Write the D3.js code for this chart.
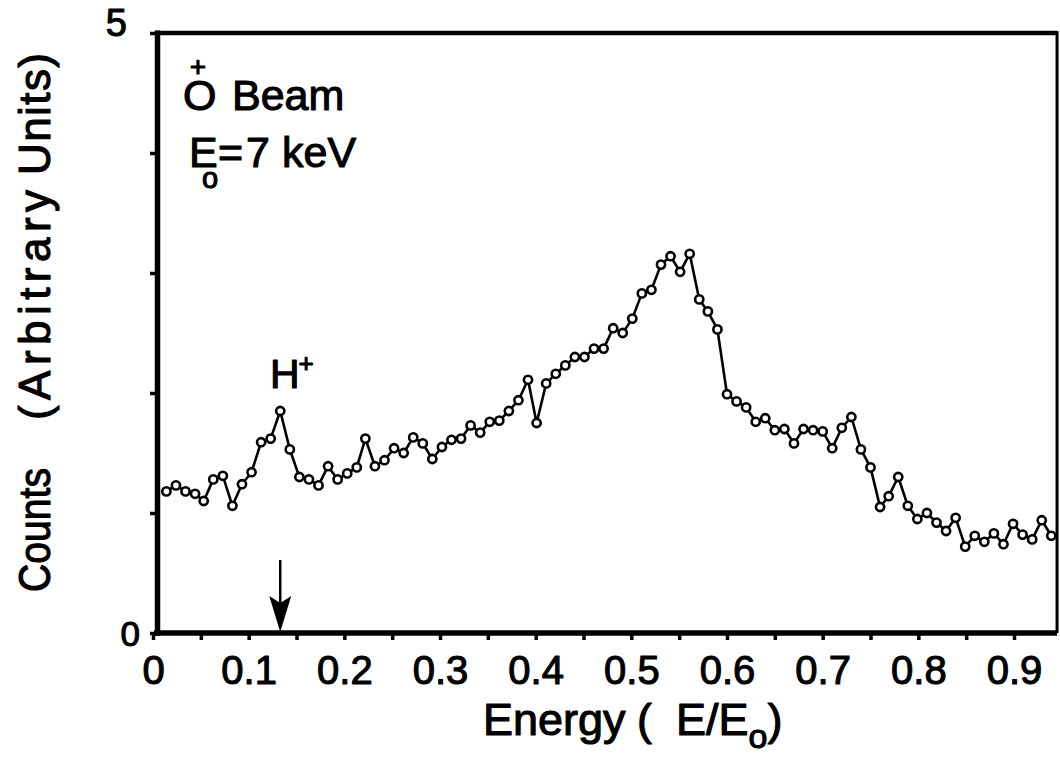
<!DOCTYPE html>
<html>
<head>
<meta charset="utf-8">
<script src="https://cdn.jsdelivr.net/npm/d3@7"></script>
<style>
  html, body { margin: 0; padding: 0; background: #fff; }
  svg { display: block; }
  text { font-family: "Liberation Sans", Arial, Helvetica, sans-serif; fill: #000; }
</style>
</head>
<body>
<svg id="chart" width="1060" height="761"></svg>
<script>
// Energy channels (E/E0) of the measured spectrum
const energy = [
  0.014, 0.024, 0.034, 0.044, 0.053, 0.063, 0.073, 0.083, 0.093, 0.103,
  0.113, 0.123, 0.133, 0.143, 0.153, 0.163, 0.173, 0.183, 0.193, 0.203,
  0.213, 0.222, 0.232, 0.242, 0.252, 0.262, 0.272, 0.282, 0.292, 0.302,
  0.312, 0.322, 0.332, 0.342, 0.352, 0.362, 0.372, 0.382, 0.392, 0.401,
  0.411, 0.421, 0.431, 0.441, 0.451, 0.461, 0.471, 0.481, 0.491, 0.501,
  0.511, 0.521, 0.531, 0.541, 0.551, 0.561, 0.571, 0.580, 0.590, 0.600,
  0.610, 0.620, 0.630, 0.640, 0.650, 0.660, 0.670, 0.680, 0.690, 0.700,
  0.710, 0.720, 0.730, 0.740, 0.750, 0.760, 0.769, 0.779, 0.789, 0.799,
  0.809, 0.819, 0.829, 0.839, 0.849, 0.859, 0.869, 0.879, 0.889, 0.899,
  0.909, 0.919, 0.929, 0.939
];

// Counts (arbitrary units) per channel
const counts = [
  1.18, 1.23, 1.18, 1.16, 1.10, 1.28, 1.31, 1.06, 1.24, 1.34,
  1.59, 1.62, 1.85, 1.53, 1.30, 1.28, 1.23, 1.39, 1.28, 1.33,
  1.38, 1.62, 1.39, 1.44, 1.54, 1.50, 1.63, 1.58, 1.45, 1.55,
  1.61, 1.62, 1.73, 1.67, 1.76, 1.77, 1.85, 1.94, 2.11, 1.75,
  2.08, 2.16, 2.23, 2.30, 2.30, 2.37, 2.37, 2.54, 2.50, 2.62,
  2.83, 2.86, 3.07, 3.14, 3.01, 3.16, 2.78, 2.68, 2.53, 1.99,
  1.93, 1.88, 1.76, 1.79, 1.69, 1.70, 1.58, 1.70, 1.69, 1.68,
  1.54, 1.71, 1.80, 1.53, 1.38, 1.05, 1.14, 1.30, 1.06, 0.95,
  1.00, 0.92, 0.85, 0.96, 0.72, 0.81, 0.76, 0.83, 0.74, 0.91,
  0.82, 0.78, 0.94, 0.81
];

// Axis ticks and labels
const xTickValues = [0, 0.05, 0.1, 0.15, 0.2, 0.25, 0.3, 0.35, 0.4, 0.45,
                     0.5, 0.55, 0.6, 0.65, 0.7, 0.75, 0.8, 0.85, 0.9];
const xTickLabels = ["0", "", "0.1", "", "0.2", "", "0.3", "", "0.4", "",
                     "0.5", "", "0.6", "", "0.7", "", "0.8", "", "0.9"];
const yTickValues = [0, 1, 2, 3, 4, 5];
const yEndLabels = ["0", "5"];

const xMax = 0.945;      // right edge of the frame (E/E0)
const hPeak = 0.133;     // H+ peak marker position (E/E0)

const svg = d3.select("#chart");

const x = d3.scaleLinear().domain([0, 0.9]).range([153, 1014]);
const y = d3.scaleLinear().domain([0, 5]).range([633, 33]);

const ink = "#000";
// printed text is set a little heavy
const heavy = g => g.style("stroke", ink).style("stroke-width", 1.1).style("stroke-linejoin", "round");

// Frame: heavy left and bottom axes, lighter top and right edges
svg.append("line")
  .attr("x1", x(0) + 2).attr("x2", x(xMax))
  .attr("y1", y(5)).attr("y2", y(5))
  .attr("stroke", ink).attr("stroke-width", 4.5);
svg.append("line")
  .attr("x1", x(xMax)).attr("x2", x(xMax))
  .attr("y1", y(5) - 2).attr("y2", y(0))
  .attr("stroke", ink).attr("stroke-width", 3);

// Bottom axis
const xAxis = d3.axisBottom(x)
  .tickValues(xTickValues)
  .tickSize(7)
  .tickFormat((d, i) => xTickLabels[i]);
const gx = svg.append("g").attr("transform", `translate(0,${y(0)})`).call(xAxis);
gx.select(".domain").remove();
gx.selectAll(".tick line").attr("stroke", ink).attr("stroke-width", 3.5);
gx.selectAll(".tick text")
  .attr("y", 23).attr("dy", "0.71em")
  .style("font-size", "40px")
  .call(heavy);
svg.append("line")
  .attr("x1", x(0) + 1).attr("x2", x(xMax))
  .attr("y1", y(0)).attr("y2", y(0))
  .attr("stroke", ink).attr("stroke-width", 5.5);

// Left axis
const yAxis = d3.axisLeft(y).tickValues(yTickValues).tickSize(7).tickFormat("");
const gy = svg.append("g").attr("transform", `translate(${x(0) + 4},0)`).call(yAxis);
gy.select(".domain").remove();
gy.selectAll(".tick line").attr("stroke", ink).attr("stroke-width", 3.5);
svg.append("line")
  .attr("x1", x(0) + 4.5).attr("x2", x(0) + 4.5)
  .attr("y1", y(5) - 2.5).attr("y2", y(0) + 2.75)
  .attr("stroke", ink).attr("stroke-width", 5.5);

// End labels of the count axis
svg.append("text")
  .attr("x", x(0) - 13).attr("y", y(0) + 13)
  .attr("text-anchor", "end")
  .style("font-size", "35px")
  .text(yEndLabels[0]).call(heavy);
svg.append("text")
  .attr("x", x(0) - 26).attr("y", y(5) + 3)
  .attr("text-anchor", "end")
  .style("font-size", "38px")
  .text(yEndLabels[1]).call(heavy);

// Axis titles
const xTitle = svg.append("text")
  .attr("x", 483).attr("y", 735)
  .style("font-size", "45px")
  .call(heavy);
xTitle.append("tspan").text("Energy");
xTitle.append("tspan").attr("x", 637).text("(");
xTitle.append("tspan").attr("x", 676).text("E/E");
xTitle.append("tspan").attr("dy", 13).style("font-size", "34px").text("o");
xTitle.append("tspan").attr("dy", -13).text(")");

const yTitle = svg.append("g").attr("transform", "translate(50,0) rotate(-90)");
yTitle.append("text")
  .attr("x", -592).attr("y", 0)
  .attr("textLength", 124).attr("lengthAdjust", "spacingAndGlyphs")
  .style("font-size", "44px").text("Counts").call(heavy);
yTitle.append("text")
  .attr("x", -420).attr("y", 0)
  .attr("textLength", 230).attr("lengthAdjust", "spacing")
  .style("font-size", "44px").text("(Arbitrary").call(heavy);
yTitle.append("text")
  .attr("x", -175).attr("y", 0)
  .attr("textLength", 122).attr("lengthAdjust", "spacing")
  .style("font-size", "44px").text("Units)").call(heavy);

// Beam annotation
svg.append("text").attr("x", 183).attr("y", 110)
  .style("font-size", "43px").text("O").call(heavy);
svg.append("text").attr("x", 198).attr("y", 76)
  .attr("text-anchor", "middle")
  .style("font-size", "28px").text("+").call(heavy);
svg.append("text").attr("x", 232).attr("y", 110)
  .style("font-size", "43px").text("Beam").call(heavy);
svg.append("text").attr("x", 189).attr("y", 167)
  .style("font-size", "43px").text("E").call(heavy);
svg.append("text").attr("x", 202).attr("y", 188)
  .style("font-size", "29px").text("o").call(heavy);
const e0 = svg.append("text").attr("x", 218).attr("y", 167)
  .style("font-size", "43px").call(heavy);
e0.append("tspan").text("=");
e0.append("tspan").attr("x", 246).text("7");
e0.append("tspan").attr("x", 282).text("keV");

// H+ label and peak marker arrow
svg.append("text").attr("x", 270).attr("y", 388)
  .style("font-size", "41px").text("H").call(heavy);
svg.append("text").attr("x", 306).attr("y", 372)
  .attr("text-anchor", "middle")
  .style("font-size", "26px").text("+").call(heavy);
svg.append("line")
  .attr("x1", x(hPeak)).attr("x2", x(hPeak))
  .attr("y1", 560).attr("y2", 605)
  .attr("stroke", ink).attr("stroke-width", 2.5);
svg.append("path")
  .attr("d", d3.line()([[x(hPeak) - 11, 596], [x(hPeak), 603], [x(hPeak) + 11, 596], [x(hPeak), y(0) - 1]]) + "Z")
  .attr("fill", ink);

// Spectrum: connected open circles
const pts = energy.map((e, i) => [e, counts[i]]);
svg.append("path")
  .datum(pts)
  .attr("fill", "none")
  .attr("stroke", ink)
  .attr("stroke-width", 2.6)
  .attr("stroke-linejoin", "round")
  .attr("d", d3.line().x(d => x(d[0])).y(d => y(d[1])));

svg.append("g").selectAll("circle")
  .data(pts)
  .join("circle")
  .attr("cx", d => x(d[0]))
  .attr("cy", d => y(d[1]))
  .attr("r", 4.1)
  .attr("fill", "#fff")
  .attr("stroke", ink)
  .attr("stroke-width", 2.6);
</script>
</body>
</html>
